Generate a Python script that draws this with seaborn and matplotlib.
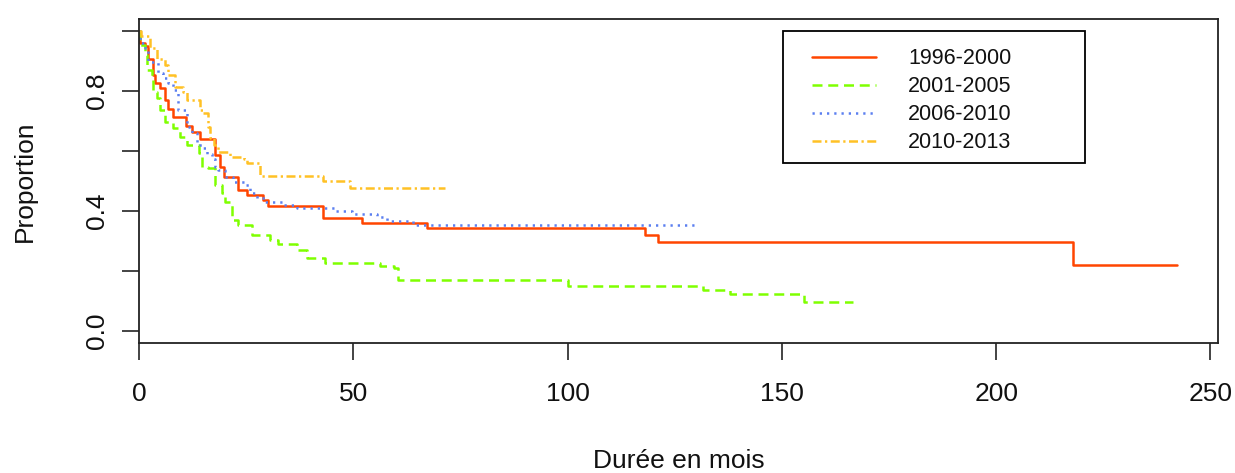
import pandas as pd
import matplotlib
matplotlib.use('Agg')
import matplotlib.pyplot as plt
from matplotlib.patches import Rectangle
import seaborn as sns

# %%
# Survival step curves per period
periods = ['1996-2000', '2001-2005', '2006-2010', '2010-2013']

t_9600 = [0, 0.3, 1.4, 2.2, 3.2, 3.7, 4.9, 6.1, 6.8, 7.9, 11.0, 12.3, 14.2, 17.8,
          18.9, 19.9, 23.0, 25.1, 28.9, 30.0, 43.0, 52.0, 67.2, 118.0, 121.0,
          217.9, 242.1]
s_9600 = [1.0, 0.961, 0.95, 0.906, 0.853, 0.826, 0.809, 0.77, 0.739, 0.714, 0.683,
          0.664, 0.639, 0.587, 0.548, 0.512, 0.47, 0.453, 0.437, 0.418, 0.378,
          0.361, 0.342, 0.32, 0.296, 0.22, 0.22]

t_0105 = [0, 0.2, 1.4, 1.8, 3.0, 3.3, 4.1, 4.9, 6.1, 8.0, 9.6, 11.1, 13.9, 14.6,
          16.2, 17.7, 19.3, 20.1, 21.6, 23.2, 26.3, 30.6, 32.5, 36.8, 39.1, 43.4,
          56.3, 59.4, 60.5, 100.0, 131.7, 138.0, 155.1, 166.7]
s_0105 = [1.0, 0.953, 0.92, 0.87, 0.848, 0.798, 0.776, 0.737, 0.698, 0.676, 0.648,
          0.62, 0.592, 0.548, 0.542, 0.487, 0.459, 0.431, 0.37, 0.353, 0.32, 0.303,
          0.29, 0.27, 0.242, 0.226, 0.217, 0.209, 0.17, 0.15, 0.137, 0.122, 0.098,
          0.098]

t_0610 = [0, 0.3, 1.4, 2.2, 4.5, 5.7, 6.8, 8.0, 9.2, 11.1, 12.3, 13.5, 14.6, 15.8,
          17.0, 17.7, 18.5, 20.1, 22.0, 24.7, 25.9, 27.5, 29.4, 33.3, 36.8, 45.8,
          49.6, 55.5, 57.8, 64.0, 129.8]
s_0610 = [1.0, 0.96, 0.942, 0.898, 0.859, 0.842, 0.826, 0.803, 0.737, 0.681, 0.659,
          0.62, 0.609, 0.589, 0.572, 0.548, 0.537, 0.512, 0.498, 0.487, 0.459,
          0.442, 0.431, 0.42, 0.409, 0.401, 0.39, 0.379, 0.367, 0.355, 0.355]

t_1013 = [0, 0.5, 2.6, 4.1, 6.1, 6.8, 8.4, 10.3, 11.1, 14.2, 15.0, 16.2, 16.6, 17.4,
          18.5, 21.2, 24.4, 25.1, 28.2, 42.9, 49.3, 71.4]
s_1013 = [1.0, 0.983, 0.942, 0.906, 0.887, 0.853, 0.814, 0.798, 0.77, 0.737, 0.726,
          0.681, 0.642, 0.62, 0.598, 0.581, 0.572, 0.559, 0.518, 0.5, 0.476, 0.476]

y_ticks = [0.0, 0.2, 0.4, 0.6, 0.8, 1.0]
y_tick_labels = ['0.0', '', '0.4', '', '0.8', '']
x_ticks = [0, 50, 100, 150, 200, 250]

# %%
# Styles (R-like colours and line types)
period_colors = {
    '1996-2000': '#FF4500', '2001-2005': '#7FFF00',
    '2006-2010': '#5B7FF0', '2010-2013': '#FFC125',
}
period_lines = {
    '1996-2000': '-',
    '2001-2005': (0, (4.0, 2.3)),
    '2006-2010': (0, (0.9, 2.0)),
    '2010-2013': (0, (3.6, 1.4, 0.9, 1.4)),
}
curves = {
    '1996-2000': (t_9600, s_9600), '2001-2005': (t_0105, s_0105),
    '2006-2010': (t_0610, s_0610), '2010-2013': (t_1013, s_1013),
}

sns.set_style('ticks')
plt.rcParams['font.family'] = ['Liberation Sans', 'DejaVu Sans']
plt.rcParams['text.color'] = '#111111'
plt.rcParams['axes.labelcolor'] = '#111111'

fig = plt.figure(figsize=(12.35, 4.73), dpi=100)
ax = fig.add_axes([0.1126, 0.2748, 0.8737, 0.685])

for period in periods:
    t, s = curves[period]
    df = pd.DataFrame({'mois': t, 'proportion': s})
    sns.lineplot(data=df, x='mois', y='proportion', ax=ax,
                 color=period_colors[period], linestyle=period_lines[period],
                 linewidth=1.8, drawstyle='steps-post',
                 estimator=None, sort=False, label=period)

ax.set_xlim(0, 242.1 * 1.04)
ax.set_ylim(-0.04, 1.04)
ax.set_xticks(x_ticks)
ax.set_yticks(y_ticks, labels=y_tick_labels)
plt.setp(ax.get_yticklabels(), rotation=90, va='center')

ax.tick_params(axis='both', direction='out', length=12, width=1.1,
               colors='#111111', labelsize=19)
ax.tick_params(axis='x', pad=16)
ax.tick_params(axis='y', pad=10)
for sp in ax.spines.values():
    sp.set_color('#222222')
    sp.set_linewidth(1.3)

ax.set_xlabel('Durée en mois', fontsize=19, labelpad=31)
ax.set_ylabel('Proportion', fontsize=19, labelpad=34)

# Legend box drawn R style: frame separate from the entries
ax.add_patch(Rectangle((0.5969, 0.5556), 0.2798, 0.4074, transform=ax.transAxes,
                       facecolor='white', edgecolor='black', linewidth=1.3,
                       zorder=4))
leg = ax.legend(loc='upper left', bbox_to_anchor=(0.6237, 0.91),
                borderaxespad=0, borderpad=0, fontsize=15.5, frameon=False,
                handlelength=2.98, handletextpad=1.49, labelspacing=0.33)
leg.set_zorder(5)

fig.savefig('out.png', dpi=100)
